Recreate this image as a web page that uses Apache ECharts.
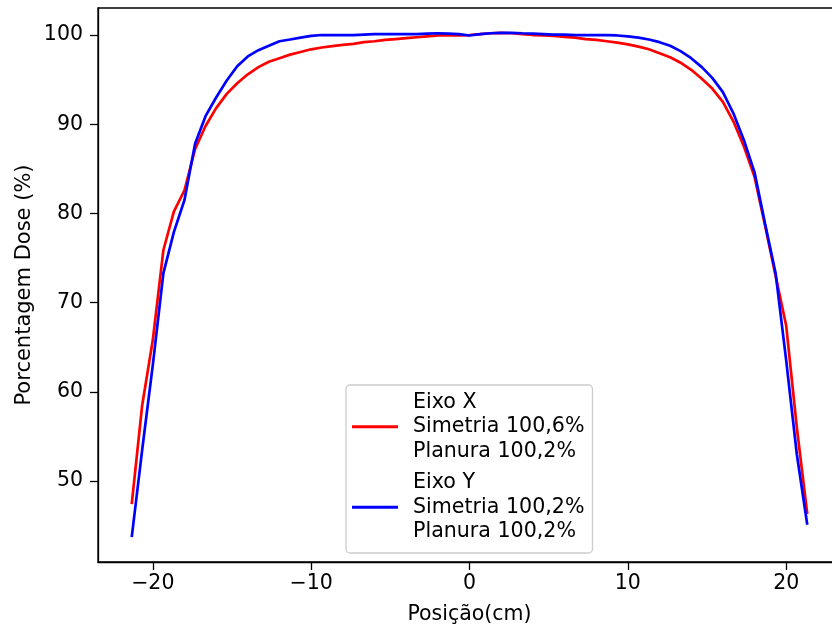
<!DOCTYPE html>
<html>
<head>
<meta charset="utf-8">
<script src="https://cdn.jsdelivr.net/npm/echarts@6/dist/echarts.min.js"></script>
<style>
  html, body { margin: 0; padding: 0; background: #fff; }
  #chart { width: 832px; height: 630px; }
</style>
</head>
<body>
<div id="chart"></div>
<script>
// posicao (cm) dos pontos medidos
var posicao = [
  -21.33, -20.67, -20.00, -19.33, -18.67, -18.00, -17.33, -16.67, -16.00, -15.33,
  -14.67, -14.00, -13.33, -12.67, -12.00, -11.33, -10.67, -10.00, -9.33, -8.67,
  -8.00, -7.33, -6.67, -6.00, -5.33, -4.67, -4.00, -3.33, -2.67, -2.00,
  -1.33, -0.67, 0.00, 0.67, 1.33, 2.00, 2.67, 3.33, 4.00, 4.67,
  5.33, 6.00, 6.67, 7.33, 8.00, 8.67, 9.33, 10.00, 10.67, 11.33,
  12.00, 12.67, 13.33, 14.00, 14.67, 15.33, 16.00, 16.67, 17.33, 18.00,
  18.67, 19.33, 20.00, 20.67, 21.33
];
// Eixo X (vermelho)
var doseEixoX = [
  47.4, 58.5, 65.8, 75.9, 80.2, 82.6, 87.2, 89.8, 91.8, 93.4,
  94.6, 95.6, 96.4, 97.0, 97.4, 97.8, 98.1, 98.4, 98.6, 98.75,
  98.9, 99.0, 99.2, 99.3, 99.45, 99.55, 99.65, 99.75, 99.85, 99.95,
  100.0, 99.95, 100.0, 100.1, 100.2, 100.25, 100.2, 100.1, 100.0, 99.95,
  99.9, 99.8, 99.7, 99.55, 99.45, 99.3, 99.15, 98.95, 98.7, 98.4,
  97.95, 97.5, 96.9, 96.1, 95.1, 94.0, 92.5, 90.3, 87.5, 84.1,
  78.6, 73.0, 67.4, 56.0, 46.3
];
// Eixo Y (azul)
var doseEixoY = [
  43.7, 53.5, 63.0, 73.3, 77.9, 81.5, 87.8, 90.9, 93.0, 94.9,
  96.5, 97.6, 98.3, 98.8, 99.3, 99.5, 99.7, 99.9, 100.0, 100.0,
  100.0, 100.0, 100.05, 100.1, 100.1, 100.1, 100.1, 100.1, 100.15, 100.2,
  100.15, 100.1, 99.95, 100.1, 100.2, 100.25, 100.25, 100.2, 100.15, 100.1,
  100.05, 100.05, 100.0, 100.0, 100.0, 100.0, 99.95, 99.85, 99.7, 99.5,
  99.2, 98.8, 98.2, 97.4, 96.4, 95.2, 93.6, 91.2, 88.2, 84.6,
  78.8, 73.3, 63.5, 53.0, 45.1
];
var ticksX = [-20, -10, 0, 10, 20];
var ticksY = [50, 60, 70, 80, 90, 100];
var nomes = ['Eixo X', 'Eixo Y'];
var legendas = {
  'Eixo X': 'Eixo X\nSimetria 100,6%\nPlanura 100,2%',
  'Eixo Y': 'Eixo Y\nSimetria 100,2%\nPlanura 100,2%'
};

function pares(xs, ys) {
  var out = [];
  for (var i = 0; i < xs.length; i++) out.push([xs[i], ys[i]]);
  return out;
}

var fonte = 'DejaVu Sans';
var chart = echarts.init(document.getElementById('chart'), null, { renderer: 'canvas' });

var option = {
  animation: false,
  backgroundColor: '#ffffff',
  textStyle: { fontFamily: fonte, color: '#000' },
  grid: {
    left: 98, top: 8, width: 743, height: 554,
    outerBoundsMode: 'none',
    containLabel: false,
    show: true, borderColor: '#000', borderWidth: 1.3, backgroundColor: 'transparent'
  },
  legend: {
    orient: 'vertical',
    left: 346, top: 385,
    padding: [5, 8, 9, 6],
    itemGap: 7,
    itemWidth: 46, itemHeight: 3,
    icon: 'rect',
    backgroundColor: 'rgba(255,255,255,0.85)',
    borderColor: '#cccccc', borderWidth: 1.3, borderRadius: 4,
    data: nomes,
    formatter: function (n) { return legendas[n]; },
    textStyle: {
      fontFamily: fonte, fontSize: 20.6, lineHeight: 24.5, color: '#000',
      padding: [0, 0, 0, 10]
    }
  },
  xAxis: {
    type: 'value',
    min: -23.46, max: 23.46,
    name: 'Posição(cm)',
    nameLocation: 'middle',
    nameGap: 42,
    nameMoveOverlap: false,
    nameTextStyle: { fontFamily: fonte, fontSize: 20.5, color: '#000' },
    splitLine: { show: false },
    axisLine: { onZero: false, lineStyle: { color: '#000', width: 1.3 } },
    axisTick: { customValues: ticksX, length: 8, lineStyle: { color: '#000', width: 1.3 } },
    axisLabel: {
      customValues: ticksX, margin: 11,
      fontFamily: fonte, fontSize: 20.5, color: '#000',
      formatter: function (v) { return v < 0 ? '\u2212' + Math.abs(v) : String(v); }
    }
  },
  yAxis: {
    type: 'value',
    min: 40.92, max: 103.03,
    name: 'Porcentagem Dose (%)',
    nameLocation: 'middle',
    nameGap: 63,
    nameMoveOverlap: false,
    nameTextStyle: { fontFamily: fonte, fontSize: 21, color: '#000' },
    splitLine: { show: false },
    axisLine: { onZero: false, lineStyle: { color: '#000', width: 1.3 } },
    axisTick: { customValues: ticksY, length: 8, lineStyle: { color: '#000', width: 1.3 } },
    axisLabel: {
      customValues: ticksY, margin: 15,
      fontFamily: fonte, fontSize: 20.5, color: '#000'
    }
  },
  series: [
    {
      name: 'Eixo X', type: 'line', data: pares(posicao, doseEixoX),
      symbol: 'none', showSymbol: false,
      itemStyle: { color: '#ff0000' },
      lineStyle: { color: '#ff0000', width: 2.7 }
    },
    {
      name: 'Eixo Y', type: 'line', data: pares(posicao, doseEixoY),
      symbol: 'none', showSymbol: false,
      itemStyle: { color: '#0000ff' },
      lineStyle: { color: '#0000ff', width: 2.7 }
    }
  ]
};
chart.setOption(option);
</script>
</body>
</html>
